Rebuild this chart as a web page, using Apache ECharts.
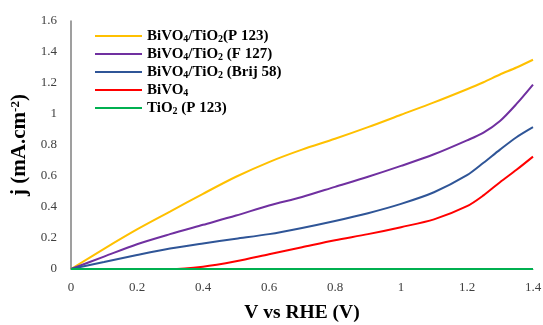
<!DOCTYPE html>
<html>
<head>
<meta charset="utf-8">
<script src="https://cdn.jsdelivr.net/npm/echarts@6/dist/echarts.min.js"></script>
<style>
  html, body { margin: 0; padding: 0; background: #fff; }
  #chart { width: 543px; height: 325px; }
</style>
</head>
<body>
<div id="chart"></div>
<script>
// potential (V vs RHE)
const volts = [0, 0.1, 0.2, 0.3, 0.4, 0.5, 0.6, 0.7, 0.8, 0.9, 1.0, 1.1, 1.2, 1.25, 1.3, 1.35, 1.4]
// current density (mA/cm2)
const p123 = [0, 0.13, 0.255, 0.37, 0.485, 0.595, 0.69, 0.77, 0.84, 0.915, 0.995, 1.075, 1.16, 1.205, 1.255, 1.30, 1.35]
const f127 = [0, 0.08, 0.16, 0.225, 0.285, 0.345, 0.41, 0.465, 0.53, 0.595, 0.665, 0.74, 0.83, 0.88, 0.955, 1.065, 1.19]
const brij58 = [0, 0.045, 0.09, 0.132, 0.165, 0.195, 0.225, 0.265, 0.31, 0.36, 0.42, 0.495, 0.605, 0.685, 0.77, 0.85, 0.915]
const bivo4 = [0, 0, 0, 0, 0.015, 0.05, 0.095, 0.14, 0.185, 0.225, 0.27, 0.32, 0.405, 0.475, 0.56, 0.64, 0.725]
const tio2 = [0, 0, 0, 0, 0, 0, 0, 0, 0, 0, 0, 0, 0, 0, 0, 0, 0]

const names = ['p123', 'f127', 'brij', 'bivo', 'tio']
const labels = {
  p123: '{b|BiVO}{s|4}{b|/TiO}{s|2}{b|(P 123)}',
  f127: '{b|BiVO}{s|4}{b|/TiO}{s|2}{b| (F 127)}',
  brij: '{b|BiVO}{s|4}{b|/TiO}{s|2}{b| (Brij 58)}',
  bivo: '{b|BiVO}{s|4}',
  tio: '{b|TiO}{s|2}{b| (P 123)}'
}
const colors = ['#FFC000', '#7030A0', '#2F5597', '#FF0000', '#00B050']
const values = [p123, f127, brij58, bivo4, tio2]

const toPairs = (arr) => volts.map((v, i) => [v, arr[i]])

const chart = echarts.init(document.getElementById('chart'))
const serif = '"Liberation Serif", "Times New Roman", serif'

chart.setOption({
  animation: false,
  color: colors,
  textStyle: { fontFamily: serif },
  grid: { left: 71, right: 10, top: 21, bottom: 56, outerBoundsMode: 'none', containLabel: false },
  legend: {
    orient: 'vertical',
    left: 90,
    top: 23,
    itemGap: 2,
    itemWidth: 47,
    itemHeight: 2,
    icon: 'rect',
    data: names,
    formatter: (n) => labels[n],
    textStyle: {
      rich: {
        b: { fontFamily: serif, fontWeight: 'bold', fontSize: 15, color: '#000', lineHeight: 16 },
        s: { fontFamily: serif, fontWeight: 'bold', fontSize: 10, color: '#000', verticalAlign: 'bottom', lineHeight: 11, padding: [6, 0, 0, 0] }
      }
    }
  },
  xAxis: {
    type: 'value',
    min: 0,
    max: 1.4,
    interval: 0.2,
    name: 'V vs RHE (V)',
    nameLocation: 'middle',
    nameGap: 34,
    nameTextStyle: { fontFamily: serif, fontWeight: 'bold', fontSize: 19.5, color: '#000' },
    axisLine: { show: true, lineStyle: { color: '#7f7f7f', width: 1 } },
    axisTick: { show: false },
    splitLine: { show: false },
    axisLabel: { fontFamily: serif, fontSize: 13, color: '#404040', margin: 12 }
  },
  yAxis: {
    type: 'value',
    min: 0,
    max: 1.6,
    interval: 0.2,
    name: '{t|j (mA.cm}{sup|-2}{t|)}',
    nameLocation: 'middle',
    nameGap: 35,
    nameRotate: 90,
    nameTextStyle: {
      rich: {
        t: { fontFamily: serif, fontWeight: 'bold', fontSize: 21, color: '#000' },
        sup: { fontFamily: serif, fontWeight: 'bold', fontSize: 13, color: '#000', verticalAlign: 'top', padding: [0, 0, 8, 0] }
      }
    },
    axisLine: { show: true, lineStyle: { color: '#7f7f7f', width: 1.5 } },
    axisTick: { show: false },
    splitLine: { show: false },
    axisLabel: { fontFamily: serif, fontSize: 13, color: '#404040', margin: 14 }
  },
  series: names.map((n, i) => ({
    name: n,
    type: 'line',
    smooth: 0.3,
    showSymbol: false,
    lineStyle: { width: 2, color: colors[i] },
    itemStyle: { color: colors[i] },
    data: toPairs(values[i])
  }))
})
</script>
</body>
</html>
